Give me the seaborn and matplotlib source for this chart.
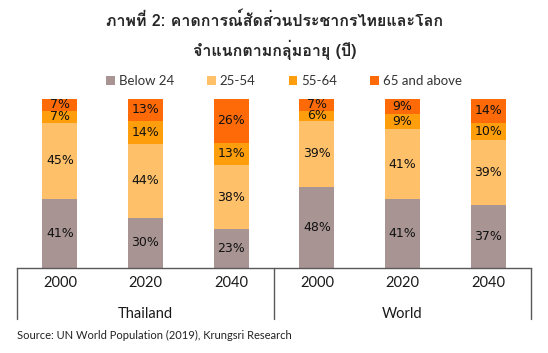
import pandas as pd
import seaborn as sns
import matplotlib.pyplot as plt
from matplotlib import font_manager
from matplotlib.ft2font import FT2Font
from matplotlib.patches import Patch
import matplotlib.transforms as mtransforms

# data (percent of population by age group)
groups = ["Thailand", "Thailand", "Thailand", "World", "World", "World"]
years = ["2000", "2020", "2040", "2000", "2020", "2040"]
below_24 = [41, 30, 23, 48, 41, 37]
age_25_54 = [45, 44, 38, 39, 41, 39]
age_55_64 = [7, 14, 13, 6, 9, 10]
above_65 = [7, 13, 26, 7, 9, 14]

series_names = ["Below 24", "25-54", "55-64", "65 and above"]
series_colors = ["#A89593", "#FFC06A", "#FF9E0C", "#FF6A08"]

title = "ภาพที่ 2: คาดการณ์สัดส่วนประชากรไทยและโลก\nจำแนกตามกลุ่มอายุ (ปี)"
source = "Source: UN World Population (2019), Krungsri Research"


def find_thai_font():
    # pick any installed family that actually has Thai glyphs
    for f in font_manager.fontManager.ttflist:
        try:
            if 0x0E20 in FT2Font(f.fname).get_charmap():
                return f.name
        except Exception:
            pass
    return "DejaVu Sans"


sns.set_theme(style="white")
plt.rcParams['font.family'] = ['Lato', 'DejaVu Sans']
thai_font = find_thai_font()

df = pd.DataFrame({"key": [g + " " + y for g, y in zip(groups, years)],
                   "group": groups, "year": years,
                   series_names[0]: below_24, series_names[1]: age_25_54,
                   series_names[2]: age_55_64, series_names[3]: above_65})
total = df[series_names].sum(axis=1)
# 100% stacked, like the original
shares = df[series_names].div(total, axis=0) * 100
cum = shares.cumsum(axis=1)

fig = plt.figure(figsize=(5.48, 3.53), dpi=100)
ax = fig.add_axes([17 / 548, 1 - 268 / 353, 514 / 548, 169 / 353])

for i in range(len(series_names) - 1, -1, -1):
    tmp = pd.DataFrame({"key": df["key"], "val": cum[series_names[i]]})
    sns.barplot(data=tmp, x="key", y="val", color=series_colors[i],
                width=0.41, saturation=1, ax=ax, linewidth=0)

# segment labels
for j in range(len(df)):
    bottom = 0
    for s in series_names:
        h = shares.loc[j, s]
        ax.text(j, bottom + h / 2, "%d%%" % df.loc[j, s], ha="center", va="center",
                fontsize=9, family="DejaVu Sans", color="#111111")
        bottom += h

ax.set_ylim(0, 100)
ax.set_xlim(-0.5, 5.5)
ax.set_yticks([])
ax.set_ylabel("")
ax.set_xlabel("")
ax.set_xticks(range(6))
ax.set_xticklabels(years, fontsize=10.5, color="#1a1a1a")
ax.tick_params(axis="x", length=0, pad=6)
for sp in ["top", "left", "right"]:
    ax.spines[sp].set_visible(False)
ax.spines["bottom"].set_color("#595959")
ax.spines["bottom"].set_linewidth(1)

# group separators and group labels
trans = mtransforms.blended_transform_factory(ax.transData, ax.transAxes)
for x in [-0.5, 2.5, 5.5]:
    ax.plot([x, x], [0, -51 / 169], color="#595959", lw=1, transform=trans, clip_on=False)
for name, x in [("Thailand", 1), ("World", 4)]:
    ax.text(x, -46 / 169, name, ha="center", va="center", fontsize=10.5,
            color="#1a1a1a", transform=trans)

fig.text(275 / 548, 1 - 36 / 353, title, ha="center", va="center", fontsize=11.5,
         fontweight="bold", family=[thai_font, "DejaVu Sans"], linespacing=1.65)

handles = [Patch(facecolor=c, edgecolor="none") for c in series_colors]
fig.legend(handles, series_names, loc="center", bbox_to_anchor=(284 / 548, 1 - 81 / 353),
           ncol=4, frameon=False, fontsize=9.5, handlelength=0.65, handleheight=0.65,
           handletextpad=0.3, columnspacing=2.5, labelcolor="#333333")

fig.text(17 / 548, 1 - 335 / 353, source, ha="left", va="center", fontsize=8, color="#222222")

fig.savefig("out.png", dpi=100)
